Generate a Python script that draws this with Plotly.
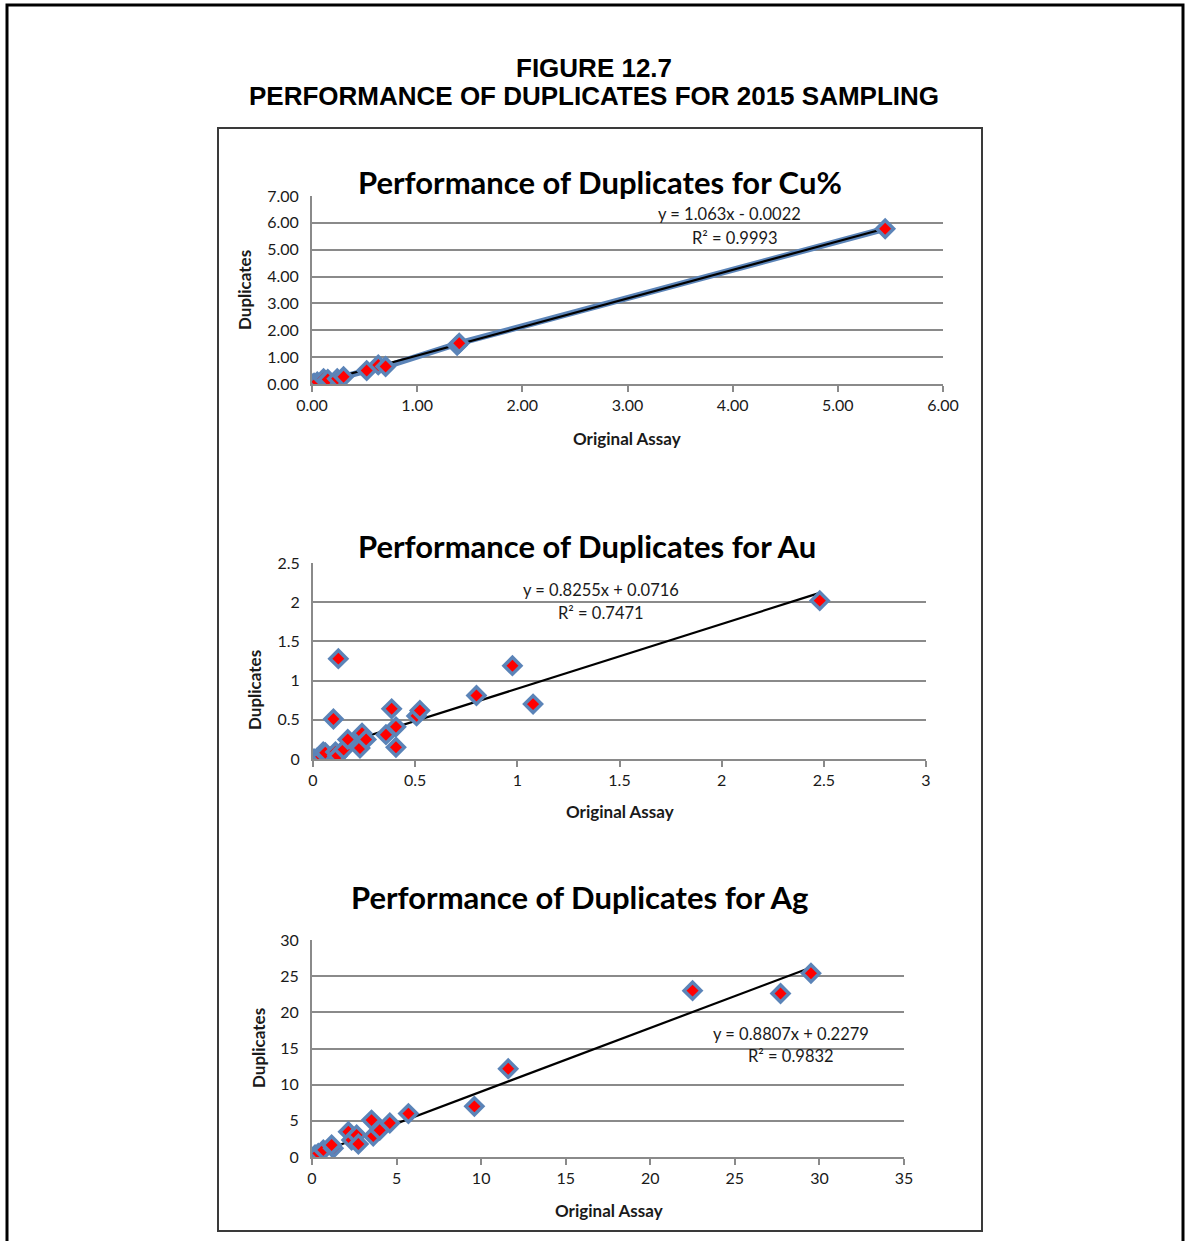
import plotly.graph_objects as go

W, H = 1188, 1241

# ---- Cu% duplicates ----
cu_original = [0.00, 0.02, 0.05, 0.11, 0.15, 0.24, 0.30, 0.52, 0.63, 0.70, 1.38, 1.40, 5.45]
cu_duplicate = [0.00, 0.03, 0.08, 0.20, 0.17, 0.20, 0.27, 0.50, 0.71, 0.65, 1.44, 1.52, 5.78]
cu_fit = (1.063, -0.0022, "y = 1.063x - 0.0022", "R² = 0.9993")

# ---- Au duplicates ----
au_original = [0.005, 0.02, 0.04, 0.05, 0.06, 0.11, 0.12, 0.124, 0.10, 0.15, 0.17,
               0.23, 0.24, 0.26, 0.357, 0.385, 0.406, 0.406, 0.507, 0.523,
               0.80, 0.976, 1.077, 2.48]
au_duplicate = [0.00, 0.01, 0.03, 0.09, 0.08, 0.09, 0.04, 1.28, 0.51, 0.12, 0.25,
                0.14, 0.33, 0.25, 0.31, 0.64, 0.41, 0.15, 0.55, 0.62,
                0.81, 1.19, 0.70, 2.02]
au_fit = (0.8255, 0.0716, "y = 0.8255x + 0.0716", "R² = 0.7471")

# ---- Ag duplicates ----
ag_original = [0.18, 0.37, 0.67, 1.26, 1.16, 2.15, 2.34, 2.64, 2.74, 3.52, 3.62,
               4.0, 4.6, 5.7, 9.6, 11.6, 22.5, 27.7, 29.5]
ag_duplicate = [0.28, 0.5, 0.97, 1.2, 1.66, 3.5, 2.35, 3.04, 1.8, 5.1, 2.9,
                3.7, 4.7, 6.0, 7.0, 12.2, 23.0, 22.6, 25.4]
ag_fit = (0.8807, 0.2279, "y = 0.8807x + 0.2279", "R² = 0.9832")

panel_titles = ["Performance of Duplicates for Cu%",
                "Performance of Duplicates for Au",
                "Performance of Duplicates for Ag"]
x_title = "Original Assay"
y_title = "Duplicates"

header_lines = ["FIGURE 12.7", "PERFORMANCE OF DUPLICATES FOR 2015 SAMPLING"]


def fx(p):
    return p / W


def fy(p):
    return 1 - p / H


GRID = "#8a8a8a"
TEXT = "#1a1a1a"
FONT = "Lato"
SERIES_BLUE = "#5b84b8"

# panel layout in page pixels: plot box (left, right, top, bottom), ranges, tick settings,
# title position, axis-title positions, equation position
panels = [
    dict(x=cu_original, y=cu_duplicate, fit=cu_fit, joined=True,
         box=(312, 943, 196, 384), xr=[0, 6], yr=[0, 7], xd=1, yd=1, fmt=".2f",
         title=(600, 182), xt=(627, 438), yt=(244, 290), eq=(729, 214), r2=(735, 238)),
    dict(x=au_original, y=au_duplicate, fit=au_fit, joined=False,
         box=(313, 926, 563, 759), xr=[0, 3], yr=[0, 2.5], xd=0.5, yd=0.5, fmt="",
         title=(587, 546), xt=(620, 812), yt=(254, 690), eq=(601, 590), r2=(601, 613)),
    dict(x=ag_original, y=ag_duplicate, fit=ag_fit, joined=False,
         box=(312, 904, 940, 1157), xr=[0, 35], yr=[0, 30], xd=5, yd=5, fmt="",
         title=(579, 897), xt=(609, 1210), yt=(258, 1048), eq=(791, 1034), r2=(791, 1056)),
]

fig = go.Figure()
annotations = []
layout_axes = {}

for i, p in enumerate(panels, start=1):
    xa = "x" if i == 1 else f"x{i}"
    ya = "y" if i == 1 else f"y{i}"
    slope, icpt, eq_txt, r2_txt = p["fit"]
    xmin, xmax = min(p["x"]), max(p["x"])

    # Cu series is drawn as a connected scatter underneath the trendline
    if p["joined"]:
        fig.add_trace(go.Scatter(
            x=p["x"], y=p["y"], mode="lines",
            line=dict(color=SERIES_BLUE, width=6),
            xaxis=xa, yaxis=ya, hoverinfo="skip"))

    # linear trendline over the data range
    fig.add_trace(go.Scatter(
        x=[xmin, xmax], y=[slope * xmin + icpt, slope * xmax + icpt],
        mode="lines", line=dict(color="black", width=2.2),
        xaxis=xa, yaxis=ya, hoverinfo="skip"))

    fig.add_trace(go.Scatter(
        x=p["x"], y=p["y"], mode="markers",
        marker=dict(symbol="diamond", size=13, color="#ff0000",
                    line=dict(color=SERIES_BLUE, width=3.5)),
        xaxis=xa, yaxis=ya, hoverinfo="skip"))

    l, r, t, b = p["box"]
    layout_axes["xaxis" if i == 1 else f"xaxis{i}"] = dict(
        domain=[fx(l), fx(r)], range=p["xr"], dtick=p["xd"], tick0=0,
        tickformat=p["fmt"], anchor=ya, showgrid=False, zeroline=False,
        showline=True, linecolor=GRID, linewidth=2, automargin=False,
        ticks="outside", ticklen=6, tickwidth=2, tickcolor=GRID,
        tickfont=dict(family=FONT, size=16, color=TEXT), fixedrange=True)
    layout_axes["yaxis" if i == 1 else f"yaxis{i}"] = dict(
        domain=[fy(b), fy(t)], range=p["yr"], dtick=p["yd"], tick0=0,
        tickformat=p["fmt"], anchor=xa, showgrid=True, gridcolor=GRID,
        gridwidth=2, zeroline=False, showline=True, linecolor=GRID,
        linewidth=2, ticks="", ticklabelstandoff=8, automargin=False,
        tickfont=dict(family=FONT, size=16, color=TEXT), fixedrange=True)

    annotations += [
        dict(text=f"<b>{panel_titles[i - 1]}</b>", x=fx(p["title"][0]), y=fy(p["title"][1]),
             xref="paper", yref="paper", showarrow=False, xanchor="center",
             yanchor="middle", font=dict(family=FONT, size=31, color="black")),
        dict(text=f"<b>{x_title}</b>", x=fx(p["xt"][0]), y=fy(p["xt"][1]),
             xref="paper", yref="paper", showarrow=False, xanchor="center",
             yanchor="middle", font=dict(family=FONT, size=17, color=TEXT)),
        dict(text=f"<b>{y_title}</b>", x=fx(p["yt"][0]), y=fy(p["yt"][1]),
             xref="paper", yref="paper", showarrow=False, textangle=-90,
             xanchor="center", yanchor="middle",
             font=dict(family=FONT, size=17, color=TEXT)),
        dict(text=eq_txt, x=fx(p["eq"][0]), y=fy(p["eq"][1]),
             xref="paper", yref="paper", showarrow=False, xanchor="center",
             yanchor="middle", font=dict(family=FONT, size=16.5, color=TEXT)),
        dict(text=r2_txt, x=fx(p["r2"][0]), y=fy(p["r2"][1]),
             xref="paper", yref="paper", showarrow=False, xanchor="center",
             yanchor="middle", font=dict(family=FONT, size=16.5, color=TEXT)),
    ]

for txt, ypos in zip(header_lines, [68, 96]):
    annotations.append(dict(
        text=f"<b>{txt}</b>", x=fx(594), y=fy(ypos), xref="paper", yref="paper",
        showarrow=False, xanchor="center", yanchor="middle",
        font=dict(family="Liberation Sans", size=26, color="black")))

shapes = [
    # outer page frame (open at the bottom edge)
    dict(type="rect", xref="paper", yref="paper",
         x0=fx(7), x1=fx(1183), y0=fy(1260), y1=fy(5),
         line=dict(color="black", width=3)),
    # chart frame
    dict(type="rect", xref="paper", yref="paper",
         x0=fx(218), x1=fx(982), y0=fy(1231), y1=fy(128),
         line=dict(color="#3a3a3a", width=2)),
]

fig.update_layout(
    width=W, height=H, autosize=False,
    margin=dict(l=0, r=0, t=0, b=0, pad=0, autoexpand=False),
    paper_bgcolor="white", plot_bgcolor="white", showlegend=False,
    hovermode=False, annotations=annotations, shapes=shapes, **layout_axes)

fig.write_html(
    "out.html", config={"displayModeBar": False, "responsive": False},
    post_script="document.body.style.margin='0';document.body.style.overflow='hidden';")
